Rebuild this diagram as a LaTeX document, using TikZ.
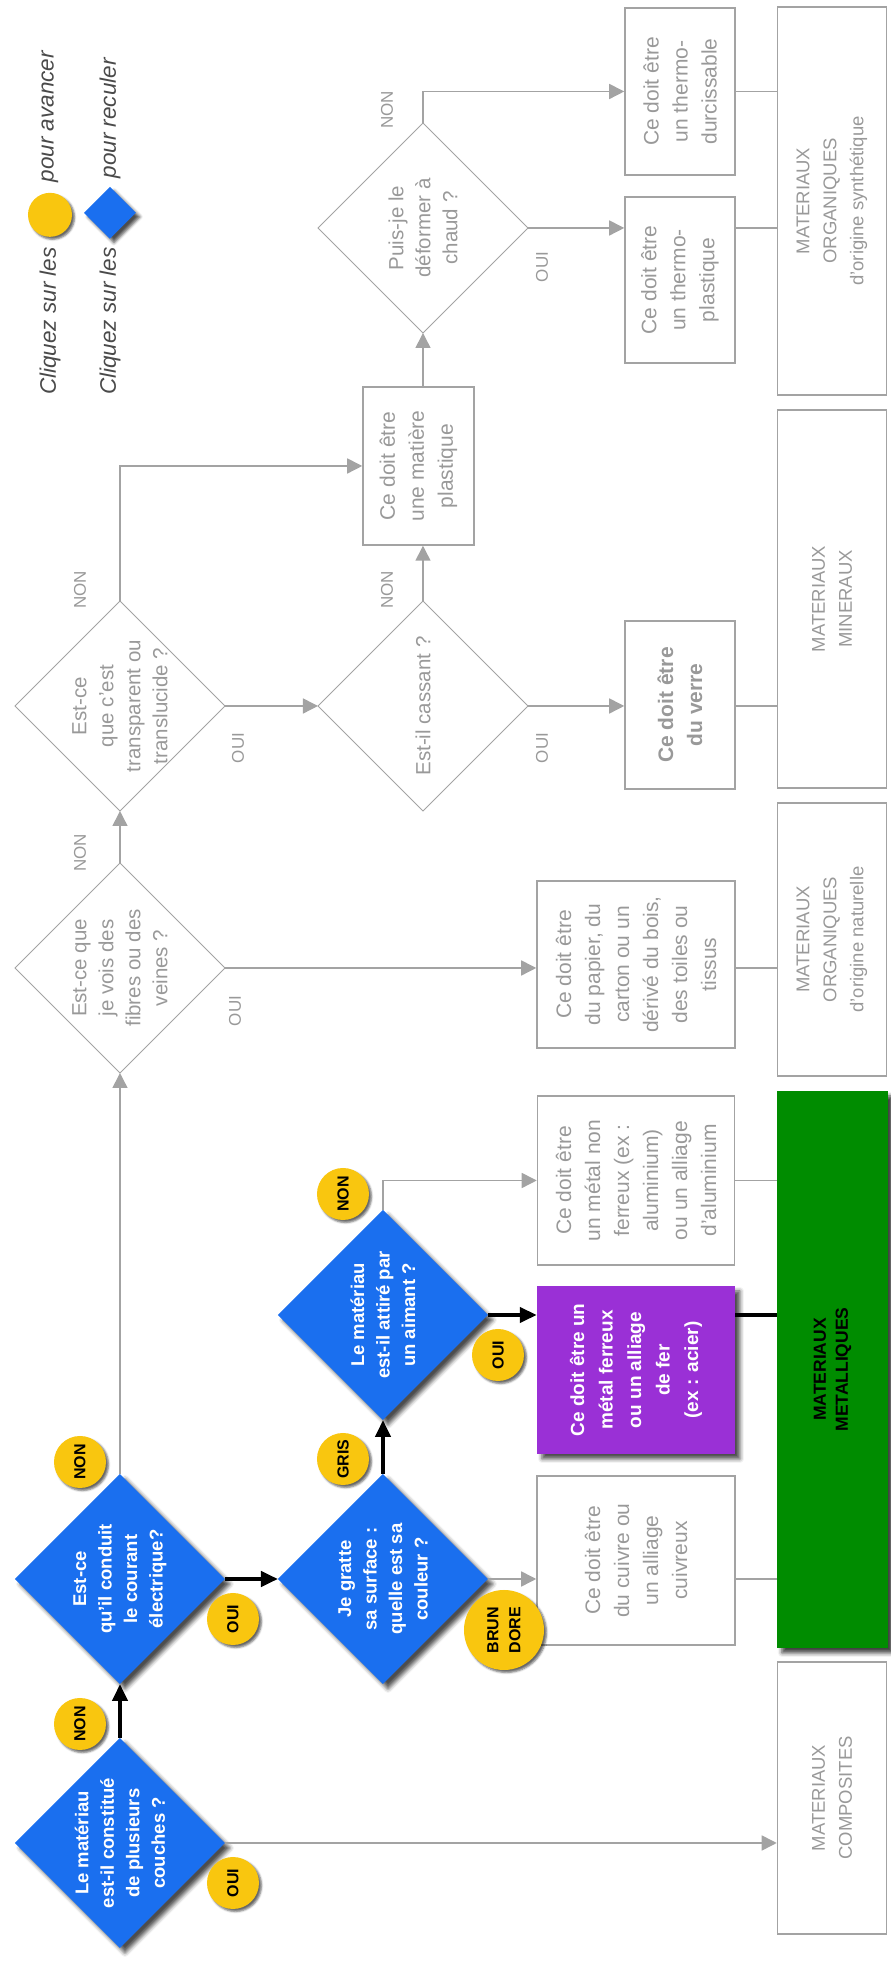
\documentclass[tikz,border=0pt]{standalone}
\usepackage{fontspec}
\setmainfont{Liberation Sans}
\usepackage{xcolor}
\usetikzlibrary{shapes.geometric, arrows.meta, positioning, shadows.blur}

\definecolor{askblue}{HTML}{1A6FEF}
\definecolor{badgegold}{HTML}{F9C60F}
\definecolor{ferpurple}{HTML}{9A30D6}
\definecolor{metalgreen}{HTML}{008C00}
\definecolor{linegray}{HTML}{A3A3A3}
\definecolor{textgray}{HTML}{999999}
\definecolor{leggray}{HTML}{4A4A4A}

\begin{document}
\begin{tikzpicture}[
	x=1pt, y=1pt, rotate=90, transform shape,
	ask/.style={
		diamond, aspect=1, fill=askblue, inner sep=-30pt, outer sep=0pt,
		minimum width=210pt, minimum height=210pt,
		text=white, font=\fontsize{18.5}{25.5}\selectfont\bfseries, align=center,
		blur shadow={shadow xshift=5pt, shadow yshift=-5pt, shadow blur radius=4pt, shadow opacity=70}
	},
	probe/.style={
		diamond, aspect=1, draw=linegray, line width=1pt, inner sep=-30pt, outer sep=0pt,
		minimum width=210pt, minimum height=210pt,
		text=textgray, font=\fontsize{20.5}{27}\selectfont, align=center
	},
	note/.style={
		draw=linegray, line width=1.5pt, rectangle, inner sep=0pt,
		text=textgray, font=\fontsize{21}{29}\selectfont, align=center
	},
	fernote/.style={
		rectangle, fill=ferpurple, inner sep=0pt,
		text=white, font=\fontsize{19}{28.5}\selectfont\bfseries, align=center,
		blur shadow={shadow xshift=5pt, shadow yshift=-5pt, shadow blur radius=4pt, shadow opacity=70}
	},
	family/.style={
		draw=linegray, line width=1.5pt, rectangle, inner sep=0pt,
		text=textgray, font=\fontsize{18.5}{27}\selectfont, align=center
	},
	metalfam/.style={
		rectangle, fill=metalgreen, inner sep=0pt,
		text=black, font=\fontsize{17.5}{22}\selectfont\bfseries, align=center,
		blur shadow={shadow xshift=5pt, shadow yshift=-5pt, shadow blur radius=4pt, shadow opacity=75}
	},
	badge/.style={
		circle, fill=badgegold, minimum size=52pt, inner sep=0pt,
		text=black, font=\fontsize{16}{22}\selectfont\bfseries, align=center,
		blur shadow={shadow xshift=2.5pt, shadow yshift=-2.5pt, shadow blur radius=2pt, shadow opacity=60}
	},
	tag/.style={text=textgray, font=\fontsize{17}{20}\selectfont, inner sep=0pt},
	legend/.style={text=leggray, font=\fontsize{22.5}{26}\selectfont\itshape, inner sep=0pt},
	go/.style={-{Triangle[length=17pt,width=15pt]}, line width=4pt, draw=black},
	bar/.style={line width=4pt, draw=black},
	link/.style={-{Triangle[length=15pt,width=15pt]}, line width=1.5pt, draw=linegray},
	tie/.style={line width=1.5pt, draw=linegray},
	]
	\useasboundingbox (0,0) rectangle (1966,891);
	
	% Blue questions
	\node[ask] (couches) at (123, 771) {Le matériau\\est-il constitué\\de plusieurs\\couches ?};
	\node[ask] (courant) at (387, 771) {Est-ce\\qu'il conduit\\le courant\\électrique?};
	\node[ask] (couleur) at (387, 508) {Je gratte\\sa surface :\\quelle est sa\\couleur ?};
	\node[ask] (aimant)  at (651, 508) {Le matériau\\est-il attiré par\\un aimant ?};
	
	% Grey questions
	\node[probe] (fibres)  at (998, 771)  {Est-ce que\\je vois des\\fibres ou des\\veines ?};
	\node[probe] (transp)  at (1260, 771) {Est-ce\\que c'est\\transparent ou\\translucide ?};
	\node[probe] (cassant) at (1260, 468) {Est-il cassant ?};
	\node[probe] (chaud)   at (1738, 468) {Puis-je le\\déformer à\\chaud ?};
	
	% Answers
	\node[note, minimum width=169pt, minimum height=198pt] (cuivre) at (405.5, 255) {Ce doit être\\du cuivre ou\\un alliage\\cuivreux};
	\node[fernote, minimum width=168pt, minimum height=198pt] (ferreux) at (596, 255) {Ce doit être un\\métal ferreux\\ou un alliage\\de fer\\(ex : acier)};
	\node[note, minimum width=169pt, minimum height=197pt] (nonfer) at (785.5, 255) {Ce doit être\\un métal non\\ferreux (ex :\\aluminium)\\ou un alliage\\d'aluminium};
	\node[note, minimum width=167pt, minimum height=198pt] (papier) at (1001.5, 255) {Ce doit être\\du papier, du\\carton ou un\\dérivé du bois,\\des toiles ou\\tissus};
	\node[note, minimum width=168pt, minimum height=110pt, font=\fontsize{21}{29}\selectfont\bfseries] (verre) at (1261, 211) {Ce doit être\\du verre};
	\node[note, minimum width=158pt, minimum height=111pt] (plast) at (1500, 472.5) {Ce doit être\\une matière\\plastique};
	\node[note, minimum width=166pt, minimum height=110pt] (tplast) at (1686, 211) {Ce doit être\\un thermo-\\plastique};
	\node[note, minimum width=167pt, minimum height=110pt] (tdurc) at (1874.5, 211) {Ce doit être\\un thermo-\\durcissable};
	
	% Families
	\node[family, minimum width=272pt, minimum height=109pt] (compo) at (168, 59) {MATERIAUX\\COMPOSITES};
	\node[metalfam, minimum width=557pt, minimum height=111pt] (metal) at (596.5, 58.5) {MATERIAUX\\METALLIQUES};
	\node[family, minimum width=273pt, minimum height=109pt] (orgnat) at (1026.5, 59) {MATERIAUX\\ORGANIQUES\\d'origine naturelle};
	\node[family, minimum width=378pt, minimum height=109pt] (miner) at (1367, 59) {MATERIAUX\\MINERAUX};
	\node[family, minimum width=388pt, minimum height=109pt] (orgsyn) at (1765, 59) {MATERIAUX\\ORGANIQUES\\d'origine synthétique};
	
	% Blue path
	\draw[go] (couches.east) -- (courant.west);
	\draw[go] (courant.south) -- (couleur.north);
	\draw[go] (couleur.east) -- (aimant.west);
	\draw[go] (aimant.south) -- (aimant.south |- ferreux.north);
	\draw[bar] (aimant.south |- ferreux.south) -- (aimant.south |- metal.north);
	
	% Grey path
	\draw[link] (couches.south) -- (couches.south |- compo.north);
	\draw[link] (courant.east) -- (fibres.west);
	\draw[link] (couleur.south) -- (couleur.south |- cuivre.north);
	\draw[tie]  (couleur.south |- cuivre.south) -- (couleur.south |- metal.north);
	\draw[link] (aimant.east) -| (nonfer.north);
	\draw[tie]  (nonfer.south) -- (nonfer.south |- metal.north);
	\draw[link] (fibres.south) -- (fibres.south |- papier.north);
	\draw[tie]  (fibres.south |- papier.south) -- (fibres.south |- orgnat.north);
	\draw[link] (fibres.east) -- (transp.west);
	\draw[link] (transp.east) -| (plast.north);
	\draw[link] (transp.south) -- (cassant.north);
	\draw[link] (cassant.south) -- (cassant.south |- verre.north);
	\draw[tie]  (cassant.south |- verre.south) -- (cassant.south |- miner.north);
	\draw[link] (cassant.east) -- (cassant.east -| plast.west);
	\draw[link] (chaud.west -| plast.east) -- (chaud.west);
	\draw[link] (chaud.south) -- (chaud.south |- tplast.north);
	\draw[tie]  (chaud.south |- tplast.south) -- (chaud.south |- orgsyn.north);
	\draw[link] (chaud.east) -| (tdurc.north);
	\draw[tie]  (tdurc.south) -- (tdurc.south |- orgsyn.north);
	
	% Yellow answers
	\node[badge] (b1non) at (242, 811) {NON};
	\node[badge] (b1oui) at (83, 658)  {OUI};
	\node[badge] (b2non) at (504, 811) {NON};
	\node[badge] (b2oui) at (347, 658) {OUI};
	\node[badge] (b3gris) at (507, 548) {GRIS};
	\node[badge, minimum size=80pt] (b3brun) at (336, 387) {BRUN\\DORE};
	\node[badge] (b5non) at (772, 548) {NON};
	\node[badge] (b5oui) at (611, 393) {OUI};
	
	% Grey answers
	\node[tag] (t4oui) at (955, 656)  {OUI};
	\node[tag] (t4non) at (1113, 811) {NON};
	\node[tag] (t6oui) at (1218, 653) {OUI};
	\node[tag] (t6non) at (1376, 811) {NON};
	\node[tag] (t7oui) at (1218, 349) {OUI};
	\node[tag] (t7non) at (1376, 504) {NON};
	\node[tag] (t8oui) at (1699, 349) {OUI};
	\node[tag] (t8non) at (1856, 504) {NON};
	
	% Legend
	\node[legend, anchor=west] (clic1) at (1571, 841) {Cliquez sur les};
	\node[circle, fill=badgegold, minimum size=44pt, inner sep=0pt, right=10pt of clic1,
		blur shadow={shadow xshift=2.5pt, shadow yshift=-2.5pt, shadow blur radius=2pt, shadow opacity=60}] (dot) {};
	\node[legend, right=10pt of dot] (avance) {pour avancer};
	\node[legend, anchor=west] (clic2) at (1571, 781) {Cliquez sur les};
	\node[diamond, aspect=1, fill=askblue, minimum size=52pt, inner sep=0pt, right=8pt of clic2,
		blur shadow={shadow xshift=4pt, shadow yshift=-4pt, shadow blur radius=3pt, shadow opacity=70}] (gem) {};
	\node[legend, right=8pt of gem] (recule) {pour reculer};
	
\end{tikzpicture}
\end{document}
